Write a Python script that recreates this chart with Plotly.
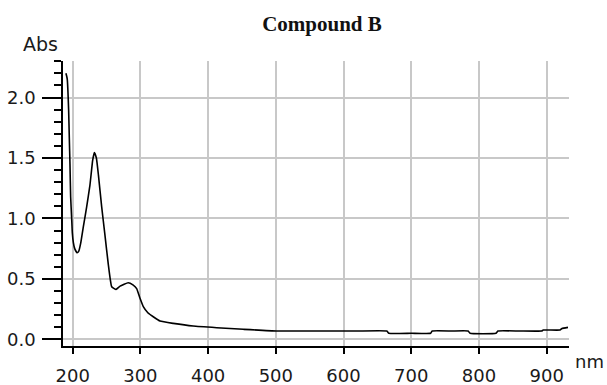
import plotly.graph_objects as go

# Spectrum data (wavelength in nm, absorbance)
wavelength = [190, 191, 192, 194, 195, 196, 197, 198.5, 199.5, 201, 203, 206.5, 209, 212,
              215.7, 220.7, 225.5, 229.5, 232, 235, 238, 242.8, 247.7, 252.6, 257.6, 264,
              270, 282, 289, 294.5, 299.4, 304.3, 311, 319, 329, 348.6, 378, 412.7, 452,
              501, 560, 620, 664, 667, 700, 728.6, 731, 760, 784, 787, 825, 828, 860,
              892.7, 895, 919.7, 922.6, 931.5]
absorbance = [2.20, 2.18, 2.15, 1.90, 1.67, 1.45, 1.18, 1.00, 0.88, 0.80, 0.75, 0.716, 0.73, 0.80,
              0.93, 1.097, 1.276, 1.48, 1.545, 1.50, 1.36, 1.097, 0.86, 0.62, 0.435, 0.413,
              0.44, 0.468, 0.45, 0.42, 0.34, 0.27, 0.22, 0.187, 0.151, 0.132, 0.11, 0.096, 0.083,
              0.069, 0.069, 0.069, 0.069, 0.05, 0.05, 0.05, 0.069, 0.069, 0.069, 0.05, 0.05, 0.069, 0.069,
              0.069, 0.077, 0.077, 0.09, 0.099]

x_ticks = [200, 300, 400, 500, 600, 700, 800, 900]
y_ticks = [0.0, 0.5, 1.0, 1.5, 2.0]
y_tick_labels = ["0.0", "0.5", "1.0", "1.5", "2.0"]

fig = go.Figure()
fig.add_trace(go.Scatter(x=wavelength, y=absorbance, mode="lines",
                         line=dict(color="black", width=1.6, shape="spline", smoothing=0.35),
                         showlegend=False, hoverinfo="skip"))

grid_color = "#c8c8c8"
tick_font = dict(family="DejaVu Sans", size=18, color="#1a1a1a")

fig.update_layout(
    width=607, height=385,
    margin=dict(l=63, r=38, t=61, b=39),
    paper_bgcolor="white", plot_bgcolor="white",
    title=dict(text="<b>Compound B</b>", x=322/607, xanchor="center",
               y=1 - 24/385, yanchor="middle",
               font=dict(family="Liberation Serif", size=21, color="#111")),
    xaxis=dict(range=[185.7, 933], tickvals=x_ticks, ticktext=[str(v) for v in x_ticks],
               showgrid=True, gridcolor=grid_color, gridwidth=1.5, zeroline=False,
               showline=True, linecolor="black", linewidth=1.5, automargin=False,
               ticks="outside", ticklen=6, tickwidth=1.5, tickcolor="black",
               ticklabelstandoff=7, tickfont=tick_font),
    yaxis=dict(range=[-0.055, 2.302], tickvals=y_ticks, ticktext=y_tick_labels,
               showgrid=True, gridcolor=grid_color, gridwidth=1.5, zeroline=False,
               showline=True, linecolor="black", linewidth=1.5, automargin=False,
               ticks="outside", ticklen=19, tickwidth=1.5, tickcolor="black",
               ticklabelstandoff=3, tickfont=tick_font,
               minor=dict(dtick=0.1, tick0=0, ticks="outside", ticklen=7, tickwidth=1.5,
                          tickcolor="black", showgrid=False)),
    annotations=[
        dict(text="Abs", xref="paper", yref="paper", x=(40-63)/506, y=(346-44)/285,
             xanchor="center", yanchor="middle", showarrow=False,
             font=dict(family="DejaVu Sans", size=19, color="#1a1a1a")),
        dict(text="nm", xref="paper", yref="paper", x=(589-63)/506, y=(346-361)/285,
             xanchor="center", yanchor="middle", showarrow=False,
             font=dict(family="DejaVu Sans", size=18, color="#1a1a1a")),
    ],
)

fig.write_html("out.html")
